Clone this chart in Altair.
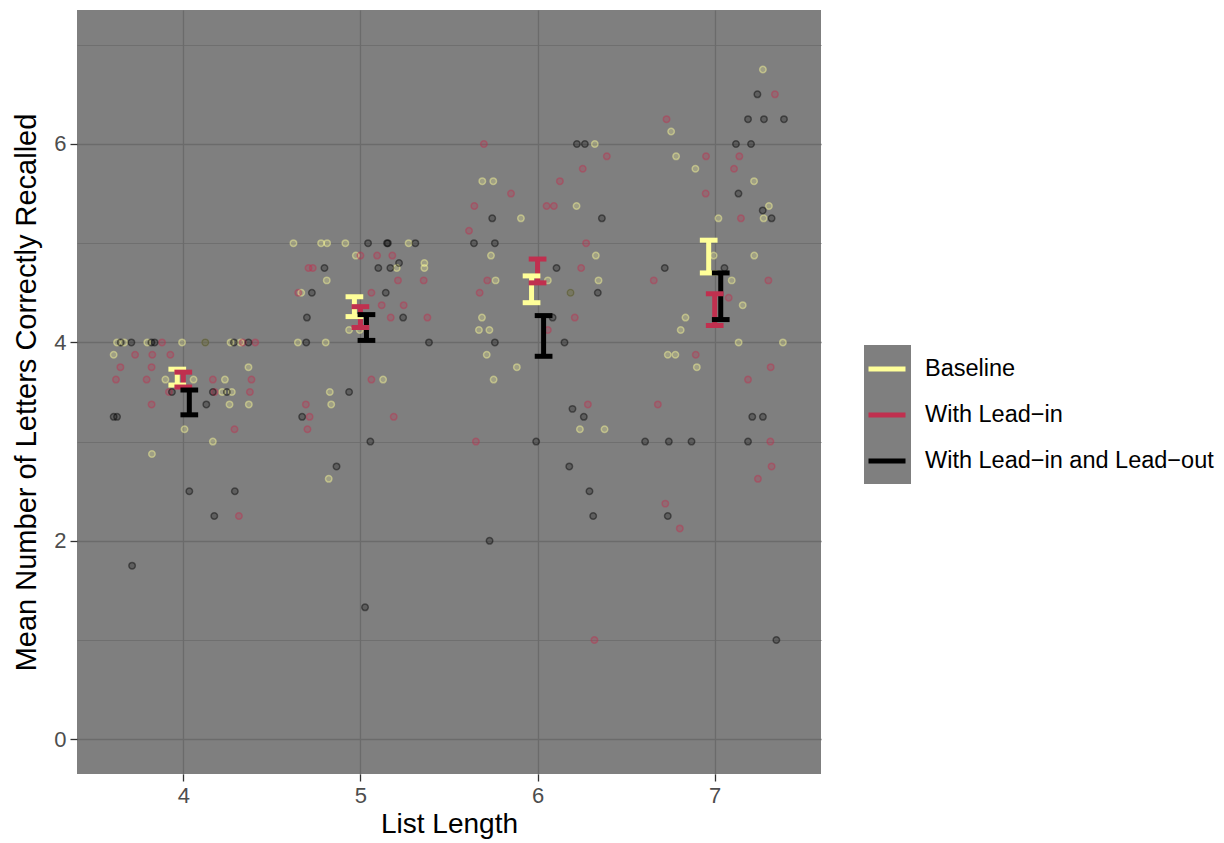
import altair as alt
import pandas as pd

# ---------------- data ----------------
CONDITIONS = ["Baseline", "With Lead\u2212in", "With Lead\u2212in and Lead\u2212out"]
COLORS = ["#FFFF99", "#C0304F", "#000000"]
LIST_LENGTHS = [4, 5, 6, 7]

# individual participant means: [jitter offset, value]
BASE_4 = [[-0.374, 4], [-0.334, 4], [-0.203, 4], [-0.007, 4], [0.124, 4], [0.267, 4], [0.323, 4],
          [-0.393, 3.875], [0.368, 3.75], [-0.101, 3.625], [0.058, 3.625], [0.235, 3.625],
          [0.220, 3.5], [0.274, 3.5], [0.261, 3.375], [0.370, 3.375], [0.007, 3.125],
          [0.167, 3.0], [-0.177, 2.875]]
LEADIN_4 = [[-0.120, 4], [0.336, 4], [0.406, 4], [-0.272, 3.875], [-0.175, 3.875], [-0.073, 3.875],
            [-0.355, 3.75], [-0.179, 3.75], [-0.380, 3.625], [-0.207, 3.625], [0.167, 3.625],
            [0.385, 3.625], [-0.081, 3.5], [0.177, 3.5], [0.376, 3.5], [-0.179, 3.375],
            [0.289, 3.125], [0.314, 2.25]]
LEADOUT_4 = [[-0.353, 4], [-0.293, 4], [-0.180, 4], [-0.162, 4], [0.124, 4], [0.286, 4], [0.368, 4],
             [-0.064, 3.5], [0.167, 3.5], [0.246, 3.5], [0.130, 3.375], [-0.393, 3.25],
             [-0.374, 3.25], [0.034, 2.5], [0.291, 2.5], [0.175, 2.25], [-0.289, 1.75]]

BASE_5 = [[-0.378, 5], [-0.222, 5], [-0.188, 5], [-0.085, 5], [0.272, 5], [-0.026, 4.875],
          [0.361, 4.8], [0.205, 4.75], [0.361, 4.75], [-0.190, 4.625], [-0.334, 4.5],
          [-0.064, 4.125], [-0.004, 4.125], [-0.353, 4], [-0.196, 4], [0.128, 3.625],
          [-0.173, 3.5], [-0.165, 3.375], [-0.179, 2.625]]
LEADIN_5 = [[0.0, 4.875], [0.094, 4.875], [0.180, 4.875], [-0.293, 4.75], [-0.269, 4.75],
            [0.212, 4.625], [0.357, 4.625], [-0.351, 4.5], [0.062, 4.5], [0.120, 4.375],
            [0.244, 4.375], [0.171, 4.25], [0.378, 4.25], [0.062, 3.625], [-0.308, 3.375],
            [-0.287, 3.25], [0.188, 3.25], [-0.299, 3.125]]
LEADOUT_5 = [[0.043, 5], [0.150, 5], [0.155, 5], [0.310, 5], [0.218, 4.8], [-0.203, 4.75],
             [0.101, 4.75], [0.169, 4.75], [-0.274, 4.5], [0.143, 4.5], [-0.302, 4.25],
             [0.241, 4.25], [-0.306, 4], [0.387, 4], [-0.064, 3.5], [-0.329, 3.25],
             [0.056, 3.0], [-0.135, 2.75], [0.026, 1.33]]

BASE_6 = [[0.323, 6], [-0.312, 5.625], [-0.250, 5.625], [0.220, 5.375], [-0.094, 5.25],
          [-0.263, 4.875], [0.329, 4.875], [-0.237, 4.625], [0.058, 4.625], [0.344, 4.625],
          [0.186, 4.5], [-0.314, 4.25], [-0.331, 4.125], [-0.272, 4.125], [-0.287, 3.875],
          [-0.117, 3.75], [-0.248, 3.625], [0.239, 3.125], [0.378, 3.125]]
LEADIN_6 = [[-0.303, 6], [0.391, 5.875], [0.255, 5.75], [0.126, 5.625], [-0.150, 5.5],
            [-0.357, 5.375], [0.051, 5.375], [0.092, 5.375], [-0.387, 5.125], [0.274, 5.0],
            [0.246, 4.75], [-0.284, 4.625], [-0.327, 4.5], [0.210, 4.25], [0.058, 4.125],
            [0.284, 3.375], [-0.348, 3.0], [0.321, 1.0]]
LEADOUT_6 = [[0.222, 6], [0.267, 6], [-0.256, 5.25], [0.363, 5.25], [-0.359, 5], [-0.241, 5],
             [0.107, 4.75], [0.186, 4.5], [0.340, 4.5], [0.085, 4.25], [-0.241, 4], [0.152, 4],
             [0.197, 3.33], [0.261, 3.25], [-0.008, 3.0], [0.179, 2.75], [0.293, 2.5],
             [0.314, 2.25], [-0.271, 2.0]]

BASE_7 = [[0.272, 6.75], [-0.246, 6.125], [-0.218, 5.875], [-0.109, 5.75], [0.222, 5.625],
          [0.306, 5.375], [0.021, 5.25], [0.276, 5.25], [-0.006, 4.875], [0.223, 4.875],
          [0.096, 4.625], [0.158, 4.375], [-0.165, 4.25], [-0.192, 4.125], [0.135, 4.0],
          [0.385, 4.0], [-0.265, 3.875], [-0.222, 3.875], [-0.101, 3.75]]
LEADIN_7 = [[0.340, 6.5], [-0.272, 6.25], [-0.049, 5.875], [0.139, 5.875], [0.109, 5.75],
            [-0.051, 5.5], [0.148, 5.25], [-0.344, 4.625], [0.303, 4.625], [0.079, 4.45],
            [-0.107, 3.875], [0.316, 3.75], [0.188, 3.625], [-0.321, 3.375], [0.314, 3.0],
            [0.321, 2.75], [0.244, 2.625], [-0.279, 2.375], [-0.197, 2.125]]
LEADOUT_7 = [[0.241, 6.5], [0.188, 6.25], [0.278, 6.25], [0.391, 6.25], [0.120, 6.0],
             [0.205, 6.0], [0.134, 5.5], [0.271, 5.33], [0.321, 5.25], [-0.282, 4.75],
             [0.055, 4.75], [0.212, 3.25], [0.272, 3.25], [-0.393, 3.0], [-0.259, 3.0],
             [-0.131, 3.0], [0.188, 3.0], [-0.265, 2.25], [0.348, 1.0]]

# error bars (lower / upper) per list length 4..7
BASE_LO = [3.57, 4.26, 4.40, 4.70]
BASE_HI = [3.73, 4.46, 4.67, 5.03]
LEADIN_LO = [3.55, 4.15, 4.60, 4.17]
LEADIN_HI = [3.70, 4.36, 4.84, 4.49]
LEADOUT_LO = [3.27, 4.02, 3.86, 4.23]
LEADOUT_HI = [3.52, 4.28, 4.27, 4.70]

# ---------------- tables ----------------
point_sets = {
    CONDITIONS[0]: [BASE_4, BASE_5, BASE_6, BASE_7],
    CONDITIONS[1]: [LEADIN_4, LEADIN_5, LEADIN_6, LEADIN_7],
    CONDITIONS[2]: [LEADOUT_4, LEADOUT_5, LEADOUT_6, LEADOUT_7],
}
rows = []
for cond, groups in point_sets.items():
    for L, grp in zip(LIST_LENGTHS, groups):
        for dx, v in grp:
            rows.append({"cond": cond, "x": L + dx, "y": v})
pts = pd.DataFrame(rows)

eb_rows = []
for i, (cond, lo, hi) in enumerate(zip(CONDITIONS, [BASE_LO, LEADIN_LO, LEADOUT_LO],
                                       [BASE_HI, LEADIN_HI, LEADOUT_HI])):
    for L, a, b in zip(LIST_LENGTHS, lo, hi):
        eb_rows.append({"cond": cond, "idx": i, "L": L, "lo": a, "hi": b})
eb = pd.DataFrame(eb_rows)

# ---------------- styling ----------------
FONT = "Liberation Sans"
DODGE = 0.034
CAP = 0.05
XDOM = [3.4, 7.6]
YDOM = [-0.35, 7.35]

xscale = alt.Scale(domain=XDOM, nice=False, zero=False)
yscale = alt.Scale(domain=YDOM, nice=False, zero=False)
cscale = alt.Scale(domain=CONDITIONS, range=COLORS)

xaxis = alt.Axis(values=LIST_LENGTHS, title="List Length", grid=True, format="d",
                 titlePadding=4, titleFontSize=28)
yaxis = alt.Axis(values=[0, 1, 2, 3, 4, 5, 6, 7], title="Mean Number of Letters Correctly Recalled",
                 grid=True, format="d", labelExpr="datum.value % 2 === 0 ? datum.label : ''",
                 tickOpacity={"condition": {"test": "datum.value % 2 === 1", "value": 0}, "value": 1},
                 gridWidth={"condition": {"test": "datum.value % 2 === 1", "value": 0.8}, "value": 1.3},
                 titlePadding=12)

legend = alt.Legend(title=None, orient="none", legendX=789, legendY=338, padding=0,
                    symbolType="stroke", symbolSize=1369, symbolStrokeWidth=5, symbolOpacity=1,
                    labelFontSize=23.5, labelFont=FONT, labelColor="#000000", labelOffset=17,
                    rowPadding=13, labelLimit=400)

color_enc = alt.Color("cond:N", scale=cscale, legend=legend, sort=CONDITIONS)

key_bg = alt.Chart(pd.DataFrame({"k": [0]})).mark_rect(color="#7F7F7F").encode(
    x=alt.value(787), x2=alt.value(834), y=alt.value(335), y2=alt.value(474))

pt_enc = dict(
    x=alt.X("x:Q", scale=xscale, axis=xaxis),
    y=alt.Y("y:Q", scale=yscale, axis=yaxis),
    color=color_enc,
)
points_fill = alt.Chart(pts).mark_circle(size=42, opacity=0.25).encode(**pt_enc)
points_ring = alt.Chart(pts).mark_point(shape="circle", size=42, strokeWidth=1.5,
                                        filled=False, opacity=0.42).encode(**pt_enc)

base_eb = alt.Chart(eb).transform_calculate(
    xc=f"datum.L + (datum.idx - 1) * {DODGE}",
).transform_calculate(
    xl=f"datum.xc - {CAP}", xr=f"datum.xc + {CAP}"
)

vbar = base_eb.mark_rule(strokeWidth=5, strokeCap="butt").encode(
    x=alt.X("xc:Q", scale=xscale), y=alt.Y("lo:Q", scale=yscale), y2="hi:Q",
    color=color_enc)
cap_lo = base_eb.mark_rule(strokeWidth=5, strokeCap="butt").encode(
    x=alt.X("xl:Q", scale=xscale), x2="xr:Q", y=alt.Y("lo:Q", scale=yscale),
    color=color_enc)
cap_hi = base_eb.mark_rule(strokeWidth=5, strokeCap="butt").encode(
    x=alt.X("xl:Q", scale=xscale), x2="xr:Q", y=alt.Y("hi:Q", scale=yscale),
    color=color_enc)

chart = alt.layer(key_bg, points_fill, points_ring, vbar, cap_lo, cap_hi).properties(
    width=744, height=764,
    autosize=alt.AutoSizeParams(type="none"),
    padding={"left": 69, "top": 2, "right": 395, "bottom": 69},
).configure(background="white").configure_view(fill="#7F7F7F", stroke=None).configure_axis(
    domain=False, gridColor="#6B6B6B", gridWidth=1.3,
    tickColor="#333333", tickSize=7, tickWidth=1.3,
    labelColor="#4D4D4D", labelFontSize=22, labelFont=FONT, labelPadding=4,
    titleFont=FONT, titleFontSize=29, titleFontWeight="normal", titleColor="#000000",
)

chart.save("out.html", embed_options={"renderer": "svg", "actions": False})
